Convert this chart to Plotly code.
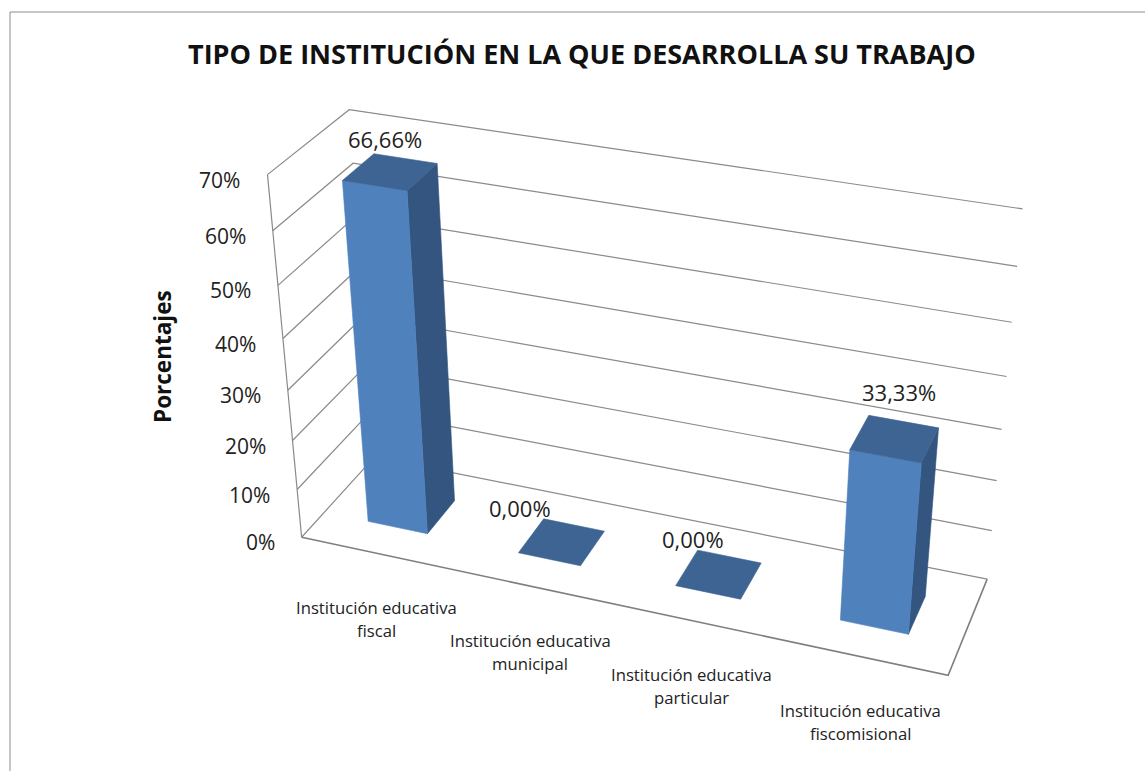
import numpy as np
import plotly.graph_objects as go

# ------------------------------------------------------------------ data
categories = [
    "Institución educativa\nfiscal",
    "Institución educativa\nmunicipal",
    "Institución educativa\nparticular",
    "Institución educativa\nfiscomisional",
]
values = [66.66, 0.00, 0.00, 33.33]
y_ticks = [0, 10, 20, 30, 40, 50, 60, 70]
y_tick_labels = ["0%", "10%", "20%", "30%", "40%", "50%", "60%", "70%"]
chart_title = "TIPO DE INSTITUCIÓN EN LA QUE DESARROLLA SU TRABAJO"
y_axis_title = "Porcentajes"

# ------------------------------------------------------------------ layout / style
W, H = 1145, 771
N_CAT = len(categories)
Z_MAX = y_ticks[-1]
BAR_W = 0.4             # bar width as share of a category slot
BAR_D0, BAR_D1 = 0.3, 0.7  # bar depth span (0 = front, 1 = back wall)

FRONT_C = "#4F81BD"
SIDE_C = "#33557F"
TOP_C = "#3D6492"
GRID_C = "#8A8A8A"
FONT = "Open Sans"

# camera calibration: landmarks of the 3-D box (world -> page pixel)
calib_world = [
    (0, 0, 0), (0, 0, 10), (0, 0, 20), (0, 0, 30), (0, 0, 40), (0, 0, 50), (0, 0, 60), (0, 0, 70),
    (0, 1, 70), (0, 1, 60),
    (N_CAT, 1, 70), (N_CAT, 1, 60), (N_CAT, 1, 50), (N_CAT, 1, 40), (N_CAT, 1, 30),
    (N_CAT, 1, 20), (N_CAT, 1, 10), (N_CAT, 1, 0),
    (N_CAT, 0, 0),
    (1.3, 0.3, 0), (1.7, 0.3, 0), (1.7, 0.7, 0), (1.3, 0.7, 0),
    (2.3, 0.3, 0), (2.7, 0.3, 0), (2.7, 0.7, 0), (2.3, 0.7, 0),
    (0.3, 0.3, 0), (0.7, 0.3, 0), (0.7, 0.7, 0),
    (3.3, 0.3, 0), (3.7, 0.3, 0), (3.7, 0.7, 0),
]
calib_px = [
    (302, 537), (297, 488), (293, 440), (288, 392), (283, 338), (278, 285), (273, 230), (267, 175),
    (349, 110), (353, 163),
    (1022, 209), (1017, 267), (1012, 323), (1007, 376), (1002, 429),
    (997, 480), (992, 530), (987, 578),
    (948, 676),
    (518, 552), (581, 566), (604, 531), (545, 519),
    (676, 586), (740, 600), (760, 564), (698, 551),
    (368, 522), (427, 533), (454, 502),
    (841, 621), (908, 634), (925, 595),
]

value_label_offsets = [(-5, -33), (-42, -34), (-26, -35), (4, -47)]


def fit_camera(world, px):
    rows, rhs = [], []
    for (X, Y, Z), (u, v) in zip(world, px):
        rows.append([X, Y, Z, 1, 0, 0, 0, 0, -u * X, -u * Y, -u * Z]); rhs.append(u)
        rows.append([0, 0, 0, 0, X, Y, Z, 1, -v * X, -v * Y, -v * Z]); rhs.append(v)
    p, *_ = np.linalg.lstsq(np.array(rows, float), np.array(rhs, float), rcond=None)
    return np.append(p, 1.0).reshape(3, 4)


P = fit_camera(calib_world, calib_px)


def proj(X, Y, Z):
    h = P @ np.array([X, Y, Z, 1.0])
    return h[0] / h[2], h[1] / h[2]


def polyline(pts):
    xs, ys = [], []
    for p in pts:
        u, v = proj(*p)
        xs.append(u); ys.append(v)
    return xs, ys


fig = go.Figure()

# ---- walls: gridlines on side wall and back wall, axis line, floor edges
gx, gy = [], []
for t in y_ticks:
    xs, ys = polyline([(0, 0, t), (0, 1, t), (N_CAT, 1, t)])
    gx += xs + [None]; gy += ys + [None]
xs, ys = polyline([(0, 0, 0), (0, 0, Z_MAX)])
gx += xs + [None]; gy += ys + [None]
fig.add_trace(go.Scatter(x=gx, y=gy, mode="lines", line=dict(color=GRID_C, width=1.2),
                         hoverinfo="skip"))
xs, ys = polyline([(0, 0, 0), (N_CAT, 0, 0), (N_CAT, 1, 0)])
fig.add_trace(go.Scatter(x=xs, y=ys, mode="lines", line=dict(color="#7F7F7F", width=1.6),
                         hoverinfo="skip"))


def face(pts, color):
    xs, ys = polyline(pts)
    fig.add_trace(go.Scatter(x=xs + [xs[0]], y=ys + [ys[0]], mode="lines", fill="toself",
                             fillcolor=color, line=dict(color=color, width=0.6),
                             hoverinfo="skip"))


# ---- bars
for k, v in enumerate(values):
    x0 = k + 0.5 - BAR_W / 2
    x1 = k + 0.5 + BAR_W / 2
    if v > 0:
        face([(x1, BAR_D0, 0), (x1, BAR_D1, 0), (x1, BAR_D1, v), (x1, BAR_D0, v)], SIDE_C)
        face([(x0, BAR_D0, 0), (x1, BAR_D0, 0), (x1, BAR_D0, v), (x0, BAR_D0, v)], FRONT_C)
    face([(x0, BAR_D0, v), (x1, BAR_D0, v), (x1, BAR_D1, v), (x0, BAR_D1, v)], TOP_C)

annotations = []
# ---- value labels
for k, v in enumerate(values):
    cu, cv = proj(k + 0.5, (BAR_D0 + BAR_D1) / 2, v)
    dx, dy = value_label_offsets[k]
    annotations.append(dict(x=cu, y=cv, xshift=dx, yshift=-dy,
                            text=f"{v:.2f}".replace(".", ",") + "%",
                            font=dict(family=FONT, size=22, color="#222222"),
                            xanchor="center", yanchor="middle"))

# ---- tick labels
for t, lab in zip(y_ticks, y_tick_labels):
    u, v = proj(0, 0, t)
    annotations.append(dict(x=u, y=v, xshift=-25, yshift=-5, text=lab,
                            font=dict(family=FONT, size=21, color="#222222"),
                            xanchor="right", yanchor="middle"))

# ---- category labels
for k, cat in enumerate(categories):
    u, v = proj(k + 0.5, 0, 0)
    for i, line in enumerate(cat.split("\n")):
        annotations.append(dict(x=u, y=v, yshift=-(54 + 23 * i), text=line,
                                font=dict(family=FONT, size=16.7, color="#222222"),
                                xanchor="center", yanchor="middle"))

# ---- titles
annotations.append(dict(x=582, y=53, text=f"<b>{chart_title}</b>",
                        font=dict(family=FONT, size=27, color="#111111"),
                        xanchor="center", yanchor="middle"))
annotations.append(dict(x=162, y=357, text=f"<b>{y_axis_title}</b>", textangle=-90,
                        font=dict(family=FONT, size=22.5, color="#111111"),
                        xanchor="center", yanchor="middle"))

for a in annotations:
    a.update(xref="x", yref="y", showarrow=False)

fig.update_layout(
    width=W, height=H,
    margin=dict(l=0, r=0, t=0, b=0),
    paper_bgcolor="white", plot_bgcolor="white",
    showlegend=False,
    xaxis=dict(range=[0, W], visible=False, fixedrange=True),
    yaxis=dict(range=[H, 0], visible=False, fixedrange=True),
    annotations=annotations,
    shapes=[
        dict(type="line", xref="x", yref="y", x0=10, y0=12, x1=W + 5, y1=12,
             line=dict(color="#8C8C8C", width=1)),
        dict(type="line", xref="x", yref="y", x0=10, y0=12, x1=10, y1=H + 5,
             line=dict(color="#8C8C8C", width=1)),
    ],
)

fig.write_html("out.html", config={"displayModeBar": False},
               post_script="document.body.style.margin='0';document.body.style.overflow='hidden';")
